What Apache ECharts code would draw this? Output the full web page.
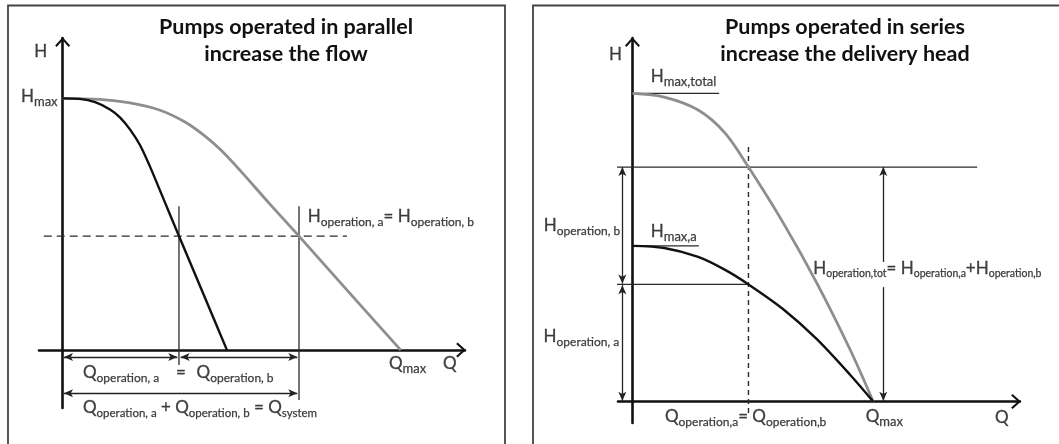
<!DOCTYPE html>
<html>
<head>
<meta charset="utf-8">
<script src="https://cdn.jsdelivr.net/npm/echarts@6/dist/echarts.min.js"></script>
<style>
html,body{margin:0;padding:0;background:#ffffff;}
#chart{width:1059px;height:444px;}
</style>
</head>
<body>
<div id="chart"></div>
<script>
// ================= DATA (Q = flow, H = head; % of Qmax / Hmax) =================
// ---- Left panel: pumps operated in parallel ----
const parPumpQ   = [0, 5.1, 9.6, 14.0, 17.0, 19.9, 22.9, 25.8, 30.0, 34.4, 41.5, 48.6];
const parPumpH   = [100, 99.8, 98.5, 95.6, 92.4, 87.7, 81.4, 73.0, 59.5, 45.3, 22.7, 0];
const parSysQ    = [0, 11.0, 19.9, 28.8, 36.2, 42.1, 47.1, 52.4, 61.3, 69.9, 82.0, 100];
const parSysH    = [100, 99.6, 98.2, 95.3, 90.6, 85.0, 79.1, 71.5, 58.0, 45.3, 27.0, 0];
const parOpH     = 45.3;   // common operating head
const parOpQa    = 34.4;   // single pump operating flow
const parOpQsys  = 69.9;   // system flow

// ---- Right panel: pumps operated in series ----
const serTotQ    = [0, 13.2, 27.3, 38.5, 48.2, 62.4, 76.5, 90.5, 100];
const serTotH    = [100, 98.8, 94.6, 87.1, 76.1, 58.3, 38.6, 16.7, 0];
const serPumpQ   = [0, 13.2, 27.3, 38.5, 48.2, 62.4, 76.5, 90.5, 100];
const serPumpH   = [50.5, 49.8, 46.9, 42.7, 38.0, 30.1, 20.3, 8.6, 0];
const serOpQ     = 48.2;   // operating flow
const serOpHa    = 38.0;   // head of pump a
const serOpHtot  = 76.1;   // total head
const serHmaxA   = 50.5;
const serHmaxTot = 100;

// ================= HELPERS =================
const FONT = 'Lato';
const TXT = '#111111';
function subStyle(size, pad){
  return {fontFamily: FONT, fontSize: size, color: TXT, lineHeight: 12, padding: [pad, 0, 0, 0],
          textBorderColor: TXT, textBorderWidth: 0.25};
}
const rich = {
  m: {fontFamily: FONT, fontSize: 17, color: TXT, lineHeight: 22, textBorderColor: TXT, textBorderWidth: 0.3},
  s: subStyle(12, 10),
  r: subStyle(11.5, 10),
  t: subStyle(10.5, 10),
  u: subStyle(13, 10)
};
function m(t){ return '{m|' + t + '}'; }
function sub(t, k){ return '{' + (k || 's') + '|' + t + '}'; }
function zip(a, b){ return a.map((v, i) => [v, b[i]]); }

function seg(gi, pts, style){
  return {
    type: 'line', xAxisIndex: gi, yAxisIndex: gi,
    data: pts, symbol: 'none', clip: false, silent: true, animation: false,
    lineStyle: style, z: 3
  };
}
function curve(gi, q, h, color, width){
  return {
    type: 'line', xAxisIndex: gi, yAxisIndex: gi, data: zip(q, h),
    symbol: 'none', smooth: 0.3, clip: false, silent: true, animation: false,
    lineStyle: {color: color, width: width}, z: 4
  };
}
function arrows(gi, list){
  return {
    type: 'line', xAxisIndex: gi, yAxisIndex: gi, data: [], silent: true, animation: false,
    markLine: {
      silent: true, animation: false,
      symbol: ['arrow', 'arrow'], symbolSize: [6, 9],
      label: {show: false},
      lineStyle: {color: '#222', width: 1.3, type: 'solid'},
      data: list.map(p => [{coord: p[0]}, {coord: p[1]}])
    }
  };
}
function labels(gi, items){
  return {
    type: 'scatter', xAxisIndex: gi, yAxisIndex: gi, symbolSize: 0, clip: false,
    silent: true, animation: false, z: 10,
    data: items.map(it => ({value: it.at, text: it.text, label: {position: it.pos || 'right'}})),
    label: {show: true, distance: 0, formatter: p => p.data.text, rich: rich}
  };
}

const chevron = 'path://M0,11 L10,0 L20,11 L18,13 L10,4 L2,13 Z';
function axisCommon(){
  return {
    type: 'value',
    axisLine: {show: true, onZero: true, symbol: ['none', chevron], symbolSize: [15, 10],
               symbolOffset: [0, -4], lineStyle: {color: '#111', width: 2.6}},
    axisTick: {show: false}, axisLabel: {show: false}, splitLine: {show: false}
  };
}

// ================= OPTION =================
const thin = {color: '#2a2a2a', width: 1.3};
const GRAY = '#8e8e8e';
const titleStyle = {fontFamily: FONT, fontWeight: 'bold', fontSize: 21.5, color: '#111', lineHeight: 27};

const option = {
  backgroundColor: '#ffffff',
  animation: false,
  title: [
    {text: 'Pumps operated in parallel\nincrease the flow', left: 286, top: 14, textAlign: 'center', padding: 0, textStyle: titleStyle},
    {text: 'Pumps operated in series\nincrease the delivery head', left: 845, top: 14, textAlign: 'center', padding: 0, textStyle: titleStyle}
  ],
  graphic: [
    {type: 'rect', shape: {x: 8, y: 5.5, width: 497, height: 470}, style: {fill: 'none', stroke: '#444', lineWidth: 1.8}, silent: true},
    {type: 'rect', shape: {x: 533, y: 5.5, width: 560, height: 470}, style: {fill: 'none', stroke: '#444', lineWidth: 1.8}, silent: true}
  ],
  grid: [
    {left: 39, top: 38, width: 426, height: 370},
    {left: 618, top: 38, width: 402, height: 385}
  ],
  xAxis: [
    Object.assign(axisCommon(), {gridIndex: 0, min: -7, max: 119}),
    Object.assign(axisCommon(), {gridIndex: 1, min: -6, max: 161})
  ],
  yAxis: [
    Object.assign(axisCommon(), {gridIndex: 0, min: -23, max: 124}),
    Object.assign(axisCommon(), {gridIndex: 1, min: -7, max: 118})
  ],
  series: [
    // ----- left panel -----
    seg(0, [[-5.6, parOpH], [84.1, parOpH]], {color: '#2a2a2a', width: 1.4, type: [8, 5]}),
    seg(0, [[parOpQa, 57.2], [parOpQa, -5.9]], thin),
    seg(0, [[parOpQsys, 57.2], [parOpQsys, -19.8]], thin),
    curve(0, parSysQ, parSysH, GRAY, 2.8),
    curve(0, parPumpQ, parPumpH, '#111', 2.4),
    arrows(0, [
      [[0.4, -2.7], [parOpQa - 0.5, -2.7]],
      [[parOpQa + 0.5, -2.7], [parOpQsys - 0.5, -2.7]],
      [[0.4, -17.1], [parOpQsys - 0.5, -17.1]]
    ]),
    labels(0, [
      {at: [-4.6, 118.8], text: m('H'), pos: 'left'},
      {at: [-1.5, 100.8], text: m('H') + sub('max', 'u'), pos: 'left'},
      {at: [72.5, 52.9], text: m('H') + sub('operation, a') + m('= H') + sub('operation, b')},
      {at: [6.0, -9.0], text: m('Q') + sub('operation, a')},
      {at: [35.0, -8.8], text: m('='), pos: 'inside'},
      {at: [39.6, -9.0], text: m('Q') + sub('operation, b')},
      {at: [6.0, -23.0], text: m('Q') + sub('operation, a', 'r') + m(' + Q') + sub('operation, b', 'r') + m(' = Q') + sub('system', 'r')},
      {at: [96.5, -5.5], text: m('Q') + sub('max', 'u')},
      {at: [112.5, -5.5], text: m('Q')}
    ]),
    // ----- right panel -----
    seg(1, [[0, serHmaxTot], [36.0, serHmaxTot]], thin),
    seg(1, [[0, serHmaxA], [27.6, serHmaxA]], thin),
    seg(1, [[-14.2, serOpHtot], [143.2, serOpHtot]], thin),
    seg(1, [[-15.3, serOpHa], [serOpQ, serOpHa]], thin),
    seg(1, [[serOpQ, 82.6], [serOpQ, -3.8]], {color: '#2a2a2a', width: 1.4, type: [5, 4]}),
    curve(1, serTotQ, serTotH, GRAY, 2.8),
    curve(1, serPumpQ, serPumpH, '#111', 2.4),
    arrows(1, [
      [[-4.2, serOpHtot], [-4.2, serOpHa + 0.3]],
      [[-4.2, serOpHa - 0.3], [-4.2, 0.2]]
    ]),
    {
      type: 'line', xAxisIndex: 1, yAxisIndex: 1, data: [], silent: true, animation: false,
      markLine: {
        silent: true, animation: false, label: {show: false},
        lineStyle: {color: '#222', width: 1.3, type: 'solid'},
        symbolSize: [6, 9],
        data: [
          [{coord: [104.2, 45.3], symbol: 'none'}, {coord: [104.2, serOpHtot], symbol: 'arrow'}],
          [{coord: [104.2, 37.1], symbol: 'none'}, {coord: [104.2, 0.2], symbol: 'arrow'}]
        ]
      }
    },
    labels(1, [
      {at: [-4.3, 112.5], text: m('H'), pos: 'left'},
      {at: [7.6, 105.5], text: m('H') + sub('max,total', 'u')},
      {at: [7.6, 55.1], text: m('H') + sub('max,a', 'u')},
      {at: [-5.1, 57.0], text: m('H') + sub('operation, b'), pos: 'left'},
      {at: [-5.5, 21.0], text: m('H') + sub('operation, a'), pos: 'left'},
      {at: [75.1, 43.0], text: m('H') + sub('operation,tot', 't') + m('= H') + sub('operation,a', 't') + m('+H') + sub('operation,b', 't')},
      {at: [13.5, -5.0], text: m('Q') + sub('operation,a') + m('= Q') + sub('operation,b')},
      {at: [96.9, -5.0], text: m('Q') + sub('max', 'u')},
      {at: [150.6, -5.1], text: m('Q')}
    ])
  ]
};

const chart = echarts.init(document.getElementById('chart'), null, {renderer: 'canvas'});
chart.setOption(option);
</script>
</body>
</html>
